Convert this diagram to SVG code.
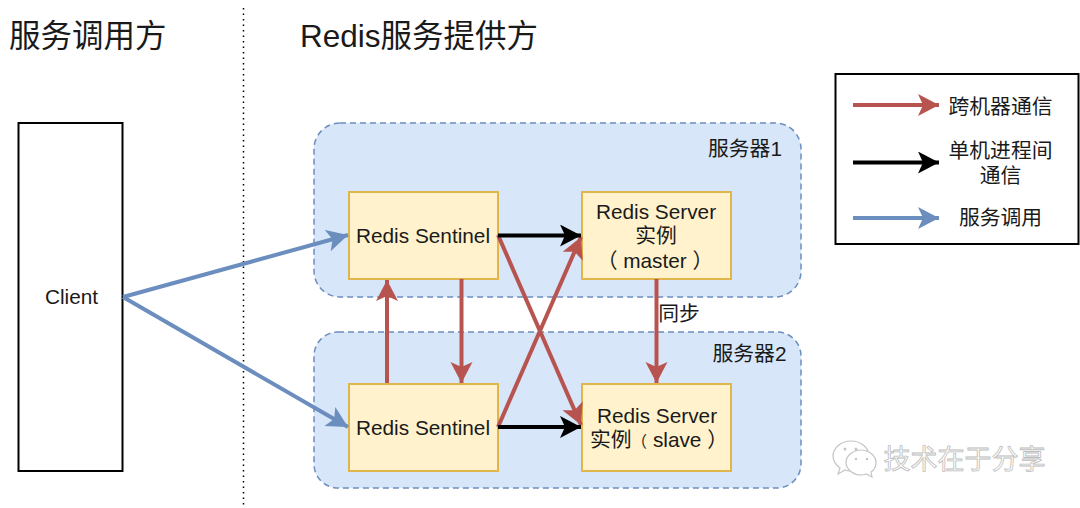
<svg xmlns="http://www.w3.org/2000/svg" width="1080" height="508" viewBox="0 0 1080 508">
<style>
text{font-family:"Liberation Sans","Noto Sans CJK SC",sans-serif;fill:#1a1a1a;font-size:20.800px;text-anchor:middle}
.h{font-size:31.500px;text-anchor:start}
.grp{fill:#d7e6f9;stroke:#6c8ebf;stroke-width:1.5;stroke-dasharray:6 4}
.box{fill:#fff2cc;stroke:#e0b64c;stroke-width:2}
.c{fill:none;stroke-width:4}
.r{stroke:#b85450}.k{stroke:#000}.b{stroke:#6c8ebf}
.wm{fill:#fff;stroke:#c4c4c4;stroke-width:1.2}
.dot{fill:#c4c4c4}
</style>
<defs>
<marker id="mr" markerUnits="userSpaceOnUse" markerWidth="24" markerHeight="24" refX="21" refY="11" orient="auto"><path d="M0 0L21 11L0 22L5 11Z" fill="#b85450"/></marker>
<marker id="mk" markerUnits="userSpaceOnUse" markerWidth="24" markerHeight="24" refX="21" refY="11" orient="auto"><path d="M0 0L21 11L0 22L5 11Z" fill="#000"/></marker>
<marker id="mb" markerUnits="userSpaceOnUse" markerWidth="24" markerHeight="24" refX="21" refY="11" orient="auto"><path d="M0 0L21 11L0 22L5 11Z" fill="#6c8ebf"/></marker>
</defs>
<rect width="1080" height="508" fill="#fff"/>
<line x1="243.500" y1="8" x2="243.500" y2="506" stroke="#000" stroke-width="1.500" stroke-dasharray="1.500 4"/>
<text class="h" x="9" y="47">服务调用方</text>
<text class="h" x="300" y="47">Redis服务提供方</text>
<g id="server1"><rect class="grp" x="314" y="123" width="487" height="174" rx="26"/><text x="745" y="156">服务器1</text></g>
<g id="server2"><rect class="grp" x="314" y="332" width="487" height="156" rx="24"/><text x="749.500" y="361">服务器2</text></g>
<g id="client"><rect x="18.500" y="123" width="104" height="348" fill="#fff" stroke="#000" stroke-width="2"/><text x="71.500" y="304">Client</text></g>
<g id="sentinel1"><rect class="box" x="349" y="192" width="149" height="87"/><text x="423" y="243">Redis Sentinel</text></g>
<g id="master"><rect class="box" x="582" y="192" width="149" height="87"/><text x="656" y="219">Redis Server</text><text x="656" y="243">实例</text><text x="655" y="268">（ master ）</text></g>
<g id="sentinel2"><rect class="box" x="349" y="384" width="149" height="87"/><text x="423" y="435">Redis Sentinel</text></g>
<g id="slave"><rect class="box" x="582" y="384" width="149" height="87"/><text x="657" y="423">Redis Server</text><text x="590" y="447" style="text-anchor:start">实例<tspan style="font-size:15.500px">（</tspan> slave ）</text></g>
<g id="connectors">
<line class="c b" x1="123" y1="297" x2="348" y2="235" marker-end="url(#mb)"/>
<line class="c b" x1="123" y1="297" x2="348" y2="427" marker-end="url(#mb)"/>
<line class="c r" x1="387" y1="383" x2="387" y2="280" marker-end="url(#mr)"/>
<line class="c r" x1="461.500" y1="279" x2="461.500" y2="383" marker-end="url(#mr)"/>
<line class="c r" x1="498" y1="427" x2="581" y2="237" marker-end="url(#mr)"/>
<line class="c r" x1="498" y1="235" x2="581" y2="425" marker-end="url(#mr)"/>
<line class="c k" x1="498" y1="235.500" x2="581" y2="235.500" marker-end="url(#mk)"/>
<line class="c k" x1="498" y1="427" x2="581" y2="427" marker-end="url(#mk)"/>
<line class="c r" x1="656.500" y1="279" x2="656.500" y2="383" marker-end="url(#mr)"/>
</g>
<text x="679" y="321">同步</text>
<g id="legend">
<rect x="835.500" y="74" width="243" height="170" fill="#fff" stroke="#000" stroke-width="2"/>
<line class="c r" x1="853" y1="105" x2="939" y2="105" marker-end="url(#mr)"/>
<line class="c k" x1="853" y1="162.500" x2="939" y2="162.500" marker-end="url(#mk)"/>
<line class="c b" x1="853" y1="218" x2="939" y2="218" marker-end="url(#mb)"/>
<text x="1000.500" y="114">跨机器通信</text>
<text x="1000.500" y="158">单机进程间</text>
<text x="1000.500" y="183">通信</text>
<text x="1000.500" y="225">服务调用</text>
</g>
<g id="watermark">
<path class="wm" d="M851 441c-10 0-18 7-18 15 0 5 3 9 7 12l-2 6 7-4c2 1 4 1 6 1 10 0 18-7 18-15s-8-15-18-15z"/>
<path class="wm" d="M861 450c-8 0-15 6-15 12.500s7 12.500 15 12.500c2 0 3 0 5-1l6 3-1-5c3-2 5-6 5-9.500 0-6.500-7-12.500-15-12.500z"/>
<circle class="dot" cx="845" cy="449" r="1.500"/><circle class="dot" cx="856" cy="449" r="1.500"/><circle class="dot" cx="856" cy="459" r="1.200"/><circle class="dot" cx="867" cy="459" r="1.200"/>
<text x="964.500" y="469" style="font-size:27px;fill:#fff;stroke:#bdbdbd;stroke-width:.8">技术在于分享</text>
</g>
</svg>
